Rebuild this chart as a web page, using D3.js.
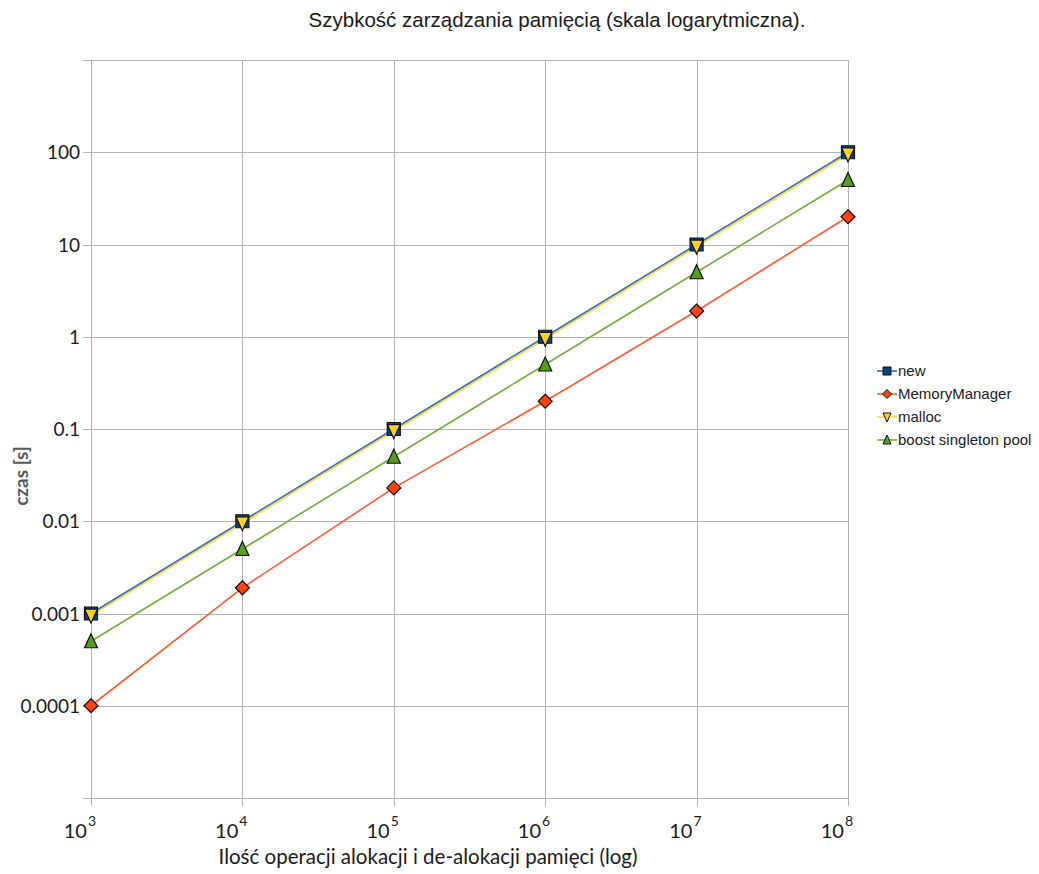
<!DOCTYPE html>
<html>
<head>
<meta charset="utf-8">
<script src="https://cdn.jsdelivr.net/npm/d3@7/dist/d3.min.js"></script>
<style>
  html, body { margin: 0; padding: 0; background: #ffffff; }
  svg { display: block; }
</style>
</head>
<body>
<div id="chart"></div>
<script>
// Number of allocation/deallocation operations (x) and times in seconds (y)
const operations = [1e3, 1e4, 1e5, 1e6, 1e7, 1e8];
const xExponents = [3, 4, 5, 6, 7, 8];

const newTimes = [0.001, 0.01, 0.1, 1, 10, 100];
const memoryManagerTimes = [0.0001, 0.0019, 0.023, 0.2, 1.9, 20];
const mallocTimes = [0.00095, 0.0095, 0.095, 0.95, 9.5, 95];
const boostPoolTimes = [0.0005, 0.005, 0.05, 0.5, 5, 50];

const yTickValues = [100, 10, 1, 0.1, 0.01, 0.001, 0.0001];
const yTickLabels = ["100", "10", "1", "0.1", "0.01", "0.001", "0.0001"];
const yGridValues = [1000, 100, 10, 1, 0.1, 0.01, 0.001, 0.0001, 0.00001];

const seriesNames = ["new", "MemoryManager", "malloc", "boost singleton pool"];
const seriesValues = [newTimes, memoryManagerTimes, mallocTimes, boostPoolTimes];
const lineColors = ["#3a6fb0", "#ff5a2e", "#ffd83a", "#6fae3c"];
const fillColors = ["#004586", "#ff420e", "#ffd320", "#579d1c"];
const markerShapes = ["square", "diamond", "triangleDown", "triangleUp"];

const W = 1039, H = 874;
const plot = { left: 91, right: 848, top: 60, bottom: 798 };

const svg = d3.select("#chart").append("svg")
  .attr("width", W).attr("height", H);

const x = d3.scaleLog().domain([1e3, 1e8]).range([plot.left, plot.right]);
const y = d3.scaleLog().domain([1e-5, 1e3]).range([plot.bottom, plot.top]);

const gridColor = "#b3b3b3";
const axisFont = "Lato, 'Open Sans', sans-serif";

// Horizontal grid lines with short ticks to the left
const grid = svg.append("g");
grid.selectAll("line.h").data(yGridValues).enter().append("line")
  .attr("x1", plot.left - 8).attr("x2", plot.right)
  .attr("y1", d => Math.round(y(d)) + 0.5).attr("y2", d => Math.round(y(d)) + 0.5)
  .attr("stroke", gridColor).attr("stroke-width", 1);

// Vertical grid lines with short ticks below
grid.selectAll("line.v").data(operations).enter().append("line")
  .attr("x1", d => Math.round(x(d)) + 0.5).attr("x2", d => Math.round(x(d)) + 0.5)
  .attr("y1", plot.top).attr("y2", plot.bottom + 8)
  .attr("stroke", gridColor).attr("stroke-width", 1);

// Y tick labels
svg.append("g").selectAll("text").data(yTickValues).enter().append("text")
  .attr("x", plot.left - 11).attr("y", d => y(d) + 7)
  .attr("text-anchor", "end")
  .attr("font-family", axisFont).attr("font-size", 19).attr("fill", "#1a1a1a")
  .text((d, i) => yTickLabels[i]);

// X tick labels as powers of ten
const xLabels = svg.append("g").selectAll("text").data(operations).enter().append("text")
  .attr("x", d => x(d) + 5).attr("y", 838)
  .attr("text-anchor", "end")
  .attr("font-family", axisFont).attr("font-size", 20).attr("fill", "#1a1a1a");
xLabels.append("tspan").text("10");
xLabels.append("tspan").attr("dy", -12).attr("dx", 1).attr("font-size", 14)
  .text((d, i) => xExponents[i]);

// Axis titles
svg.append("text")
  .attr("x", 428).attr("y", 864).attr("text-anchor", "middle")
  .attr("font-family", axisFont).attr("font-size", 20.5).attr("fill", "#1a1a1a")
  .text("Ilość operacji alokacji i de-alokacji pamięci (log)");

svg.append("text")
  .attr("transform", "translate(28,476) rotate(-90)")
  .attr("text-anchor", "middle")
  .attr("font-family", axisFont).attr("font-size", 19).attr("font-weight", "bold")
  .attr("fill", "#595959")
  .text("czas [s]");

// Chart title
svg.append("text")
  .attr("x", 557).attr("y", 27).attr("text-anchor", "middle")
  .attr("font-family", "'Liberation Sans', Arial, sans-serif").attr("font-size", 20.5)
  .attr("fill", "#1a1a1a")
  .text("Szybkość zarządzania pamięcią (skala logarytmiczna).");

// Marker path generator
function markerPath(shape, s) {
  const h = s / 2;
  switch (shape) {
    case "square": return `M${-h},${-h}H${h}V${h}H${-h}Z`;
    case "diamond": return `M0,${-h - 0.5}L${h + 0.5},0L0,${h + 0.5}L${-h - 0.5},0Z`;
    case "triangleDown": return `M${-h},${-h}L${h},${-h}L0,${h + 1}Z`;
    case "triangleUp": return `M0,${-h - 1}L${h},${h}L${-h},${h}Z`;
  }
}

const line = d3.line()
  .x((d, i) => x(operations[i]))
  .y(d => y(d));

// Lines first, then markers on top
const drawOrder = [3, 1, 2, 0];
const linesG = svg.append("g");
drawOrder.forEach(k => {
  linesG.append("path")
    .datum(seriesValues[k])
    .attr("d", line)
    .attr("fill", "none")
    .attr("stroke", lineColors[k])
    .attr("stroke-width", 1.6);
});

const markersG = svg.append("g");
[3, 1, 0, 2].forEach(k => {
  markersG.selectAll(null).data(seriesValues[k]).enter().append("path")
    .attr("transform", (d, i) => `translate(${x(operations[i])},${y(d)})`)
    .attr("d", markerPath(markerShapes[k], 13))
    .attr("fill", fillColors[k])
    .attr("stroke", "#111")
    .attr("stroke-width", 1.2);
});

// Legend
const legend = svg.append("g");
const legendY0 = 371, legendStep = 23;
seriesNames.forEach((name, k) => {
  const cy = legendY0 + k * legendStep;
  legend.append("line")
    .attr("x1", 877).attr("x2", 897).attr("y1", cy).attr("y2", cy)
    .attr("stroke", lineColors[k]).attr("stroke-width", 1.6);
  legend.append("path")
    .attr("transform", `translate(887,${cy})`)
    .attr("d", markerPath(markerShapes[k], 8))
    .attr("fill", fillColors[k]).attr("stroke", "#111").attr("stroke-width", 1);
  legend.append("text")
    .attr("x", 898).attr("y", cy + 5)
    .attr("font-family", "'Liberation Sans', Arial, sans-serif").attr("font-size", 15)
    .attr("fill", "#1a1a1a")
    .text(name);
});
</script>
</body>
</html>
